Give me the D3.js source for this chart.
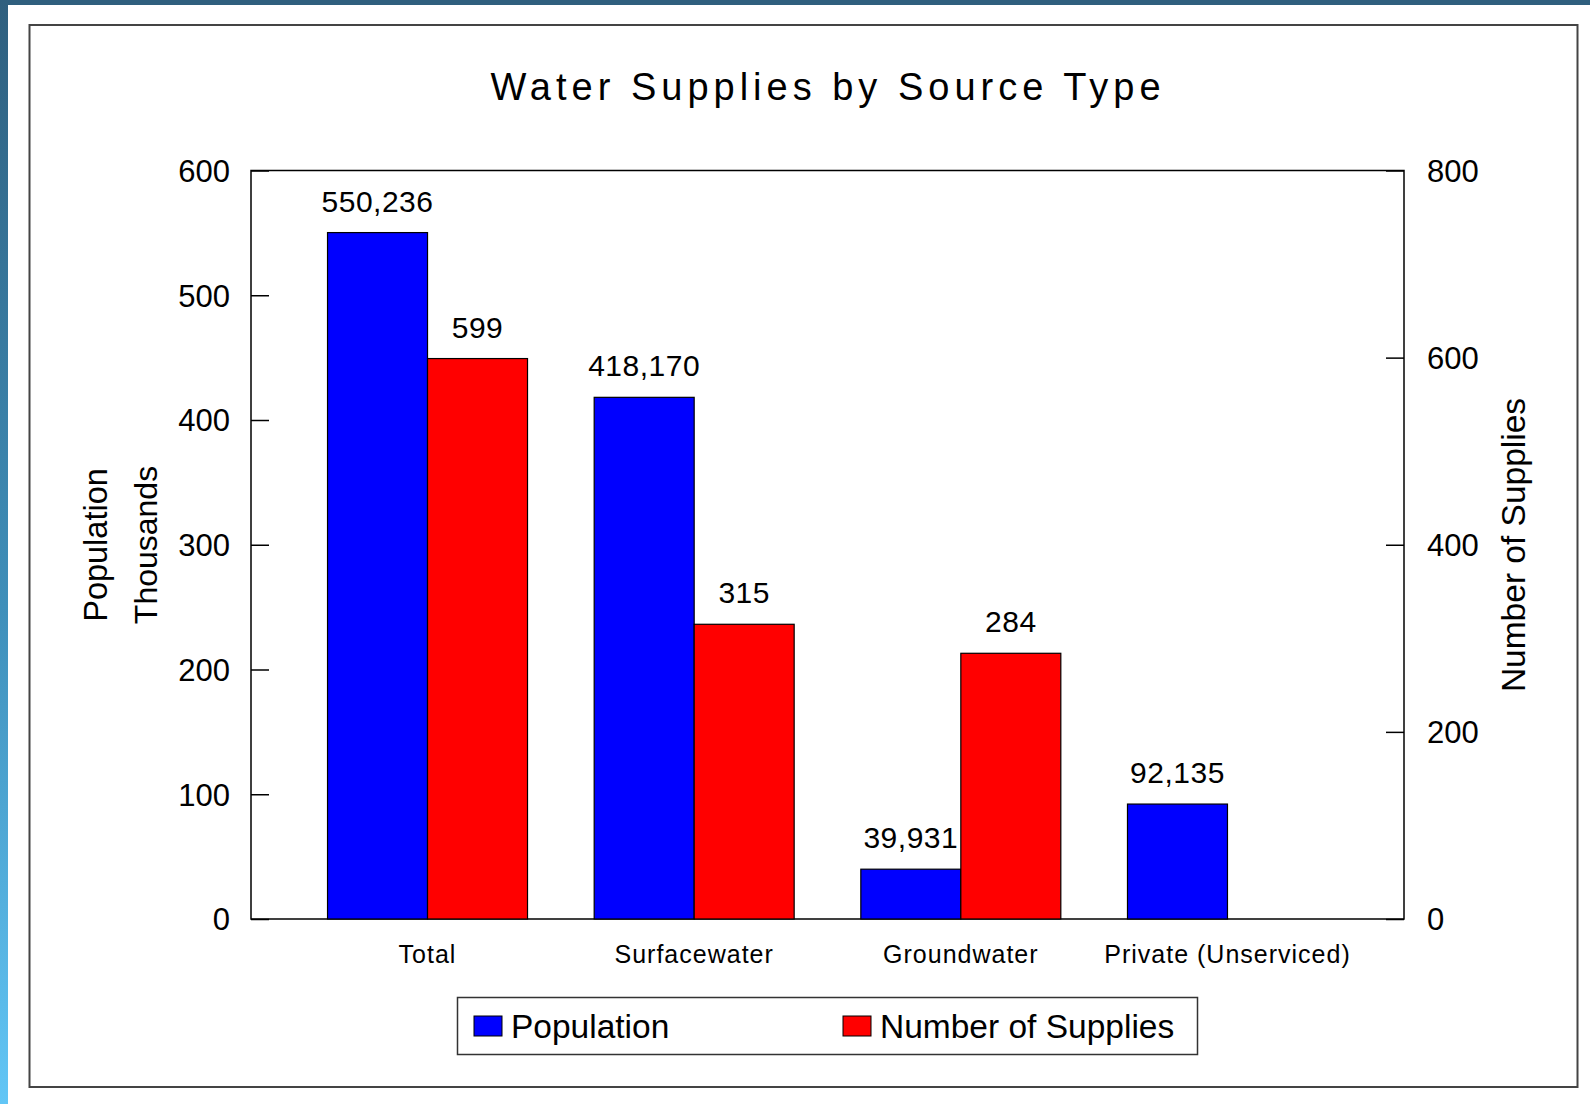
<!DOCTYPE html>
<html>
<head>
<meta charset="utf-8">
<script src="https://cdn.jsdelivr.net/npm/d3@7"></script>
<style>
  html, body { margin: 0; padding: 0; background: #ffffff; }
  svg { display: block; }
  text { font-family: "Liberation Sans", Arial, sans-serif; fill: #000; }
</style>
</head>
<body>
<svg id="chart" width="1590" height="1104"></svg>
<script>
// Data
const categories = ["Total", "Surfacewater", "Groundwater", "Private (Unserviced)"];
const population = [550236, 418170, 39931, 92135];          // people
const supplies = [599, 315, 284, null];                      // number of supplies
const leftTicks = [0, 100, 200, 300, 400, 500, 600];         // thousands
const rightTicks = [0, 200, 400, 600, 800];
const seriesNames = ["Population", "Number of Supplies"];
const seriesColors = ["#0000ff", "#ff0000"];

const W = 1590, H = 1104;
const svg = d3.select("#chart");

// Page decoration: gradient edge strip on the left, dark band on top
const defs = svg.append("defs");
const grad = defs.append("linearGradient").attr("id", "edge").attr("x1", 0).attr("y1", 0).attr("x2", 0).attr("y2", 1);
grad.append("stop").attr("offset", "0%").attr("stop-color", "#2f5f7e");
grad.append("stop").attr("offset", "55%").attr("stop-color", "#3f8fba");
grad.append("stop").attr("offset", "100%").attr("stop-color", "#62c6f6");
svg.append("rect").attr("x", 0).attr("y", 0).attr("width", W).attr("height", 5).attr("fill", "#2f5f7e");
svg.append("rect").attr("x", 0).attr("y", 0).attr("width", 8).attr("height", H).attr("fill", "url(#edge)");

// Outer frame
svg.append("rect").attr("x", 29.5).attr("y", 25).attr("width", 1548).attr("height", 1062)
  .attr("fill", "none").attr("stroke", "#444").attr("stroke-width", 2);

// Plot area
const plot = { left: 251, right: 1404, top: 170.5, bottom: 919 };

const x = d3.scaleBand().domain(categories).range([plot.left, plot.right])
  .paddingInner(0.25).paddingOuter(0.287);
const xs = d3.scaleBand().domain(seriesNames).range([0, x.bandwidth()]);
const yL = d3.scaleLinear().domain([0, 600]).range([plot.bottom, plot.top]);
const yR = d3.scaleLinear().domain([0, 800]).range([plot.bottom, plot.top]);

// Left axis: ticks point into the plot
const axL = svg.append("g").attr("transform", `translate(${plot.left},0)`)
  .call(d3.axisRight(yL).tickValues(leftTicks).tickSize(18).tickFormat(d3.format("d")));
axL.select(".domain").remove();
axL.selectAll("line").attr("stroke", "#000").attr("stroke-width", 1.5);
axL.selectAll("text").attr("x", -21).attr("text-anchor", "end").attr("dy", "0.35em")
  .style("font-size", "31px").attr("fill", "#000");

// Right axis: ticks point into the plot
const axR = svg.append("g").attr("transform", `translate(${plot.right},0)`)
  .call(d3.axisLeft(yR).tickValues(rightTicks).tickSize(18).tickFormat(d3.format("d")));
axR.select(".domain").remove();
axR.selectAll("line").attr("stroke", "#000").attr("stroke-width", 1.5);
axR.selectAll("text").attr("x", 23).attr("text-anchor", "start").attr("dy", "0.35em")
  .style("font-size", "31px").attr("fill", "#000");

// Plot border
svg.append("rect").attr("x", plot.left).attr("y", plot.top)
  .attr("width", plot.right - plot.left).attr("height", plot.bottom - plot.top)
  .attr("fill", "none").attr("stroke", "#000").attr("stroke-width", 1.5);

// Bars
const fmt = d3.format(",");
const rows = [];
categories.forEach((c, i) => {
  rows.push({ cat: c, s: seriesNames[0], v: population[i], y: yL(population[i] / 1000), label: fmt(population[i]), color: seriesColors[0] });
  if (supplies[i] != null) {
    rows.push({ cat: c, s: seriesNames[1], v: supplies[i], y: yR(supplies[i]), label: fmt(supplies[i]), color: seriesColors[1] });
  }
});

svg.append("g").selectAll("rect").data(rows).join("rect")
  .attr("x", d => x(d.cat) + xs(d.s))
  .attr("y", d => d.y)
  .attr("width", xs.bandwidth())
  .attr("height", d => plot.bottom - d.y)
  .attr("fill", d => d.color)
  .attr("stroke", "#000").attr("stroke-width", 1.2);

// Value labels
svg.append("g").selectAll("text").data(rows).join("text")
  .attr("x", d => x(d.cat) + xs(d.s) + xs.bandwidth() / 2)
  .attr("y", d => d.y - 21)
  .attr("text-anchor", "middle")
  .style("font-size", "30px")
  .style("letter-spacing", "0.5px")
  .text(d => d.label);

// Category labels
svg.append("g").selectAll("text").data(categories).join("text")
  .attr("x", d => x(d) + x.bandwidth() / 2)
  .attr("y", 963)
  .attr("text-anchor", "middle")
  .style("font-size", "25px")
  .style("letter-spacing", "1px")
  .attr("fill", "#333")
  .text(d => d);

// Title
svg.append("text").attr("x", 828).attr("y", 100).attr("text-anchor", "middle")
  .style("font-size", "38px").style("letter-spacing", "5px").attr("fill", "#111")
  .text("Water Supplies by Source Type");

// Axis titles
svg.append("text").attr("transform", "translate(107,545) rotate(-90)").attr("text-anchor", "middle")
  .style("font-size", "32.5px").text("Population");
svg.append("text").attr("transform", "translate(157,545) rotate(-90)").attr("text-anchor", "middle")
  .style("font-size", "32px").text("Thousands");
svg.append("text").attr("transform", "translate(1525,545) rotate(-90)").attr("text-anchor", "middle")
  .style("font-size", "33.5px").text("Number of Supplies");

// Legend
const lg = svg.append("g");
lg.append("rect").attr("x", 457.5).attr("y", 997.5).attr("width", 740).attr("height", 57)
  .attr("fill", "#fff").attr("stroke", "#333").attr("stroke-width", 1.5);
const legendItems = [
  { name: seriesNames[0], color: seriesColors[0], x: 474 },
  { name: seriesNames[1], color: seriesColors[1], x: 843 }
];
const li = lg.selectAll("g.item").data(legendItems).join("g").attr("class", "item");
li.append("rect").attr("x", d => d.x).attr("y", 1016).attr("width", 28).attr("height", 20)
  .attr("fill", d => d.color).attr("stroke", "#000").attr("stroke-width", 1);
li.append("text").attr("x", d => d.x + 37).attr("y", 1038)
  .style("font-size", "33.5px").text(d => d.name);
</script>
</body>
</html>
